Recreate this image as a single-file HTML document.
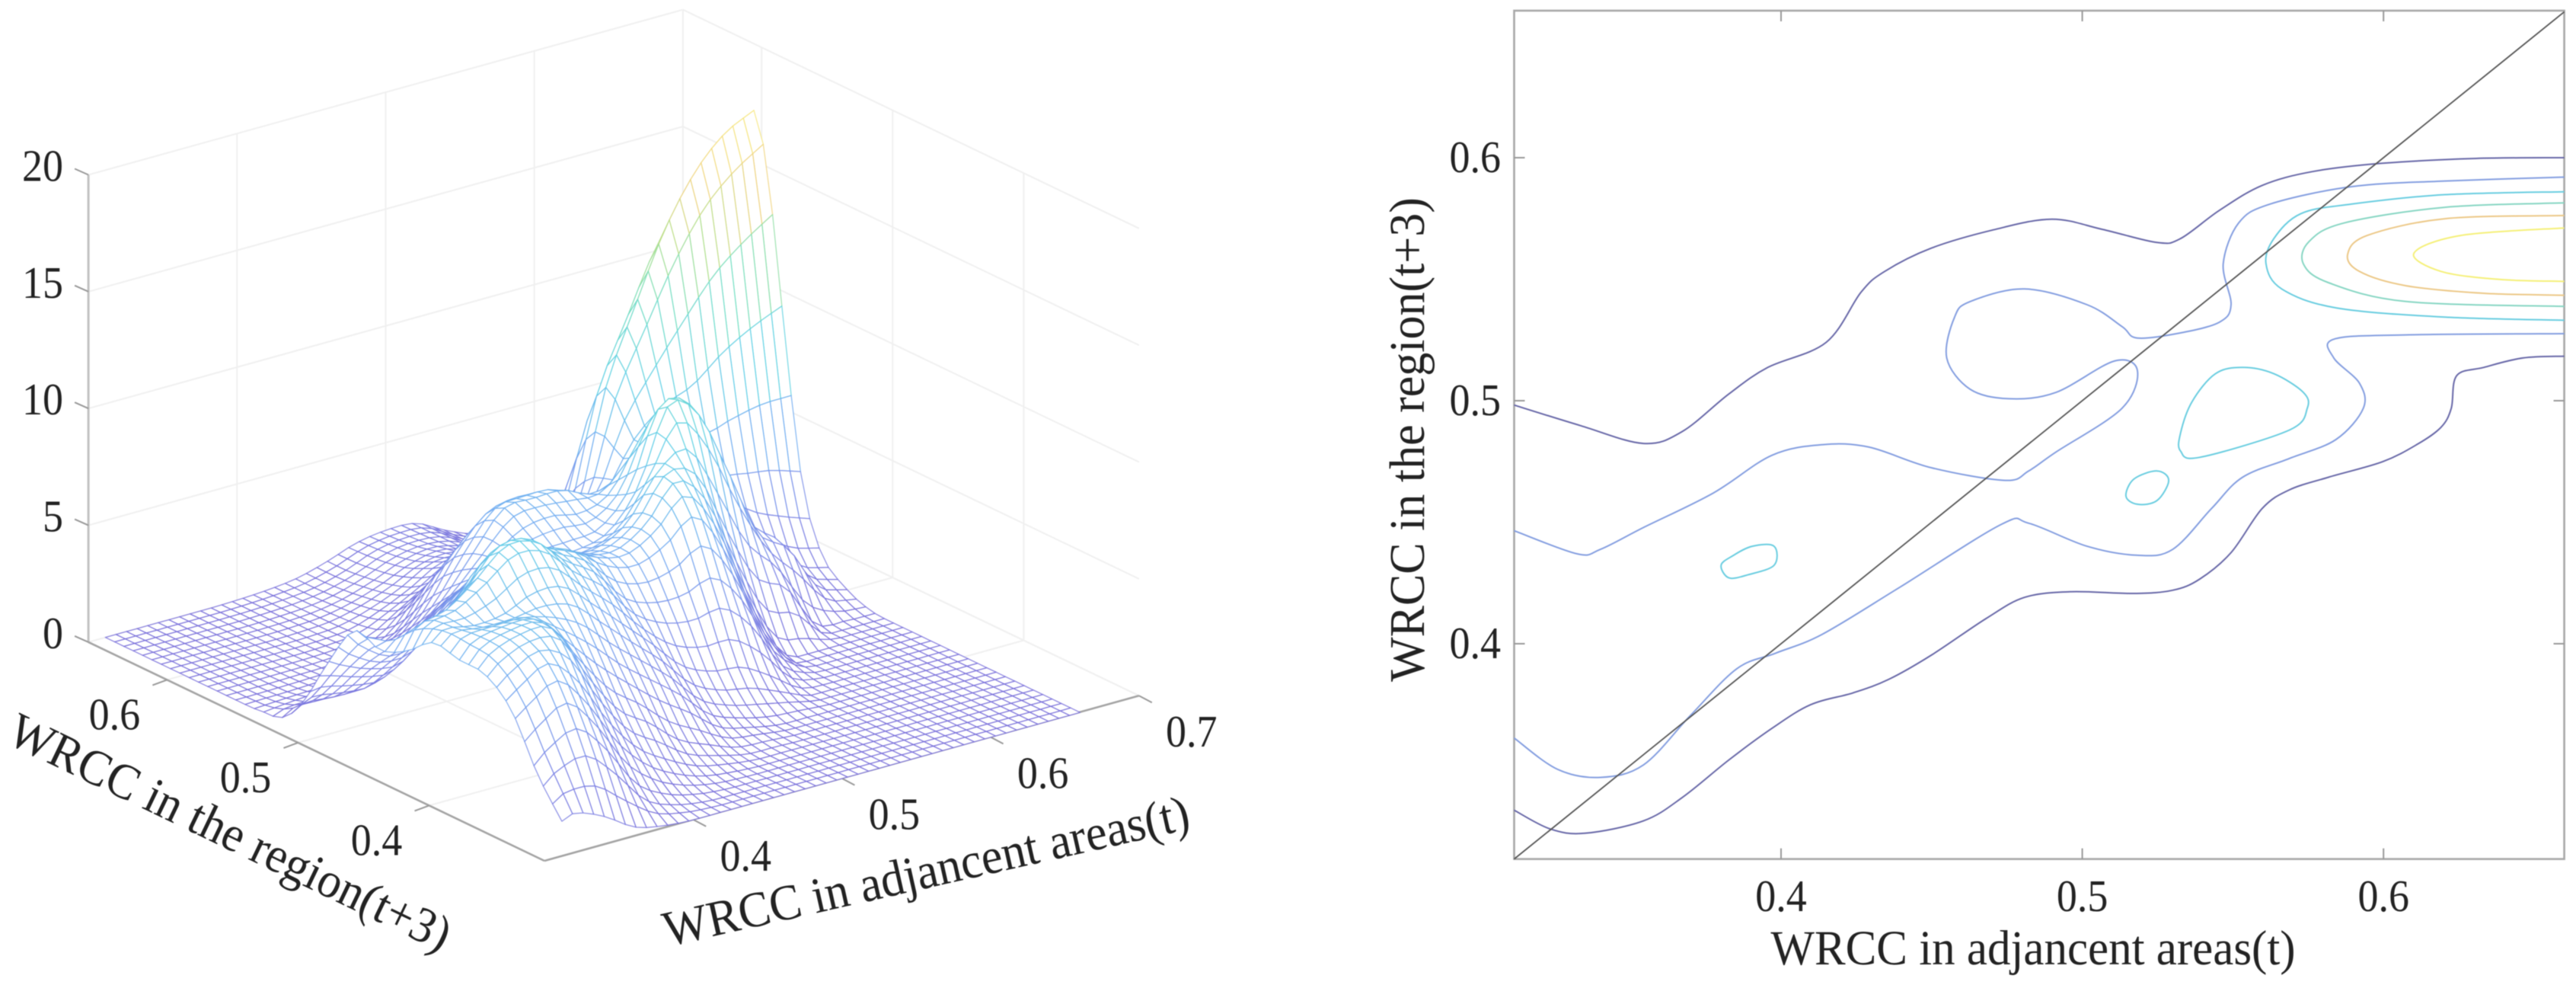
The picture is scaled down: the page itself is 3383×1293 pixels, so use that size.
<!DOCTYPE html>
<html lang="en">
<head>
<meta charset="utf-8">
<title>WRCC surface and contour</title>
<style>
html,body{margin:0;padding:0;background:#fff;}
svg{position:absolute;left:0;top:0;display:block;filter:blur(0.55px);}
text{font-family:"Liberation Serif",serif;fill:#222;}
</style>
</head>
<body>
<svg id="fig" xmlns="http://www.w3.org/2000/svg" width="3383" height="1293" viewBox="0 0 3383 1293">
  <g id="surfaceAxes"></g>
  <g id="surfaceMesh"></g>
  <g id="surfaceLabels"></g>
  <g id="contourChart"></g>
</svg>
<script>
/* ---------- surface readings: z per x knot, each list follows surfaceY ---------- */
const surfaceX = [.3114,.32,.34,.36,.38,.40,.42,.44,.46,.48,.50,.52,.54,.56,.58,.60,.62,.64,.66];
const surfaceY = [.3116,.33,.35,.37,.39,.41,.43,.45,.47,.49,.51,.525,.54,.55,.56,.57,.58,.59,.60,.615,.63,.645,.66];
const surfaceZ = [
[1.5,3.0,5.2,6.2,6.3,6.5,5.6,5.1,5.4,3.5,1.2,.2,.05,0,0,0,0,0,0,0,0,0,0],
[1.7,3.5,5.6,6.7,6.9,6.9,6.5,5.4,4.8,3.2,1.4,.5,.1,.03,0,0,0,0,0,0,0,0,0],
[1.2,4.0,6.3,7.2,7.2,6.7,6.9,5.3,4.0,2.7,1.2,.5,.2,.06,.02,0,0,0,0,0,0,0,0],
[.4,2.8,5.0,7.0,7.2,6.8,7.8,6.1,4.4,2.6,1.2,.6,.25,.12,.05,.02,0,0,0,0,0,0,0],
[.1,1.1,3.0,5.0,6.4,7.3,8.8,7.7,5.4,3.8,2.2,1.1,.5,.25,.12,.05,.02,0,0,0,0,0,0],
[0,.4,1.6,3.3,5.4,7.2,8.6,8.2,6.6,5.0,3.5,2.3,1.3,.8,.45,.2,.1,.05,.03,.03,.03,.03,.03],
[0,.1,.8,2.4,4.2,6.1,7.4,7.6,6.7,5.5,4.3,3.4,2.5,1.8,1.1,.6,.3,.2,.15,.12,.1,.1,.1],
[0,0,.3,1.3,3.2,4.9,6.5,7.1,6.3,5.4,5.2,5.0,4.4,3.6,2.7,1.8,1.1,.75,.55,.4,.3,.25,.25],
[0,0,.1,.7,2.2,3.7,5.0,6.3,6.0,5.4,6.0,6.5,5.8,4.8,3.7,2.6,1.9,1.4,1.1,.85,.7,.6,.6],
[0,0,0,.2,1.0,2.4,4.4,6.0,6.0,5.4,6.2,6.6,6.2,5.5,4.4,3.3,2.6,2.1,1.8,1.4,1.2,1.1,1.05],
[0,0,0,.1,.5,1.8,4.3,6.6,6.8,5.8,6.0,6.6,6.0,5.0,4.2,3.2,2.5,2.1,1.8,1.6,1.4,1.3,1.25],
[0,0,0,0,.2,1.6,4.6,7.6,8.5,7.4,6.6,6.1,5.2,4.5,3.6,2.8,2.2,1.7,1.4,1.2,1.2,1.2,1.2],
[0,0,0,0,.1,.9,3.3,5.8,8.3,10.5,8.6,6.6,5.3,4.8,4.0,3.3,2.5,1.8,1.3,.8,.6,.55,.55],
[0,0,0,0,0,.1,1.0,2.8,5.7,9.8,9.2,7.6,7.3,8.3,8.9,8.0,5.9,3.6,2.2,1.0,.45,.15,.05],
[0,0,0,0,0,0,.1,.5,3.3,7.0,7.6,7.4,8.5,10.6,12.1,10.8,8.2,5.0,2.7,.9,.25,.05,0],
[0,0,0,0,0,0,0,.1,2.4,4.0,4.7,5.6,9.2,12.8,15.0,13.4,9.6,5.5,2.6,.7,.15,.02,0],
[0,0,0,0,0,0,0,0,.4,3.0,3.0,5.2,10.3,14.6,17.1,15.0,11.2,6.3,2.3,.5,.1,0,0],
[0,0,0,0,0,0,0,0,.1,1.0,2.0,5.0,11.1,15.8,18.4,16.8,12.0,6.8,2.5,.4,.05,0,0],
[0,0,0,0,0,0,0,0,.05,.5,1.6,4.6,11.7,16.7,19.05,17.9,12.8,7.2,3.0,.5,.05,0,0]
];
const meshCells = 49;
const surfaceXTicks = [.4,.5,.6,.7];
const surfaceYTicks = [.4,.5,.6];
const surfaceZTicks = [0,5,10,15,20];

/* ---------- contour readings ---------- */
const outerUpperX = [.3114,.3336,.3543,.3672,.3827,.3956,.415,.4266,.4344,.4499,.4705,.4899,.5067,.5248,.5326,.5455,.5597,.5765,.5997,.6307,.66];
const outerUpperY = [.4982,.4897,.4824,.4873,.5028,.5137,.524,.5447,.5532,.5628,.5703,.5747,.5705,.5651,.5667,.5783,.5886,.5943,.5977,.5997,.6];
const outerLowerX = [.3114,.3233,.3349,.3543,.3672,.3827,.3969,.4098,.424,.4357,.4499,.468,.4809,.4964,.5171,.53,.539,.5494,.5597,.5687,.5817,.5997,.6114,.6191,.6225,.6243,.6333,.6463,.66];
const outerLowerY = [.3315,.3238,.322,.3271,.3367,.3522,.3651,.3749,.3798,.3853,.3953,.4103,.4191,.4214,.4207,.422,.4266,.4375,.4556,.4633,.4685,.4749,.4822,.4891,.4969,.5103,.5137,.5176,.5183];
const level6UpperX = [.3114,.3323,.34,.3543,.3775,.3969,.4137,.4292,.4499,.4744,.4822,.4912,.5132,.5183,.5106,.4912,.4757,.4628,.455,.4576,.4628,.4809,.5016,.5132,.5183,.5326,.5455,.5494,.5468,.5519,.5623,.5894,.6204,.66];
const level6UpperY = [.4465,.437,.4388,.4478,.462,.4775,.4819,.4809,.4724,.4672,.4711,.4788,.4969,.5124,.5163,.5034,.5008,.5047,.5176,.5344,.5408,.546,.5395,.5305,.5258,.5279,.5323,.5395,.5563,.5731,.5809,.5881,.5904,.592];
const level6LowerX = [.3114,.3258,.34,.3543,.3698,.3853,.3982,.4137,.4395,.4731,.4822,.5016,.5183,.53,.5429,.5532,.5687,.5842,.5933,.592,.5835,.5835,.6075,.66];
const level6LowerY = [.3612,.3483,.345,.3501,.3703,.3897,.3961,.4039,.4233,.4491,.4496,.4401,.4364,.4388,.4556,.4685,.4762,.484,.4969,.5072,.5176,.5253,.5271,.5276];
const level9RidgeX = [.66,.6204,.5894,.5726,.5636,.561,.5662,.5842,.6204,.66];
const level9RidgeY = [.586,.5848,.5809,.577,.5667,.5563,.546,.5382,.5344,.5331];
const level12RidgeX = [.66,.6204,.5868,.5752,.5734,.5817,.6075,.66];
const level12RidgeY = [.5814,.5796,.5731,.5654,.5563,.5486,.5408,.5388];
const level15RidgeX = [.66,.6204,.5946,.5881,.592,.6075,.6333,.66];
const level15RidgeY = [.5762,.5749,.568,.5602,.5532,.5473,.5442,.5434];
const level18RidgeX = [.66,.6256,.6101,.6191,.6385,.66];
const level18RidgeY = [.5711,.568,.5607,.5532,.5499,.5491];
const islandBigX = [.5326,.539,.5687,.5747,.5734,.5636,.5532,.5442,.5364,.5326];
const islandBigY = [.4793,.4767,.4879,.4969,.5034,.5111,.5137,.5111,.4995,.4866];
const islandSmallX = [.5145,.5183,.5248,.5287,.5248,.5171];
const islandSmallY = [.4607,.4574,.4589,.4672,.4711,.4677];
const islandLeftX = [.3801,.3827,.3891,.3977,.3977,.3904,.384];
const islandLeftY = [.4323,.4271,.4284,.4323,.4401,.4401,.4362];
const diagonalX = [.3114,.66];
const diagonalY = [.3114,.66];
const contourXTicks = [.4,.5,.6];
const contourYTicks = [.4,.5,.6];

const NS = 'http://www.w3.org/2000/svg';
function make(tag, parent, attrs){
  const el = document.createElementNS(NS, tag);
  for (const k in attrs) el.setAttribute(k, attrs[k]);
  parent.appendChild(el);
  return el;
}

/* ---------- 3D axis functions ---------- */
const xLo = .30, xHi = .70, yLo = .312, yHi = .66, zHi = 20;
function projX(x, y){ return 715 + (x - xLo) * 1952 - (y - yLo) * 1721; }
function projY(x, y, z){ return 1130 - (x - xLo) * 542 - (y - yLo) * 825 - z * 30.67; }

function hermite(knots, values, t){
  const n = knots.length;
  let i = 0;
  while (i < n - 2 && t > knots[i + 1]) i++;
  const h = knots[i + 1] - knots[i];
  const slope = function(k){
    if (k <= 0) return (values[1] - values[0]) / (knots[1] - knots[0]);
    if (k >= n - 1) return (values[n - 1] - values[n - 2]) / (knots[n - 1] - knots[n - 2]);
    return (values[k + 1] - values[k - 1]) / (knots[k + 1] - knots[k - 1]);
  };
  const s = (t - knots[i]) / h;
  const s2 = s * s, s3 = s2 * s;
  return (2 * s3 - 3 * s2 + 1) * values[i] + (s3 - 2 * s2 + s) * h * slope(i) +
         (-2 * s3 + 3 * s2) * values[i + 1] + (s3 - s2) * h * slope(i + 1);
}

function meshColor(z){
  const stops = [[0,110,100,215],[3,115,125,228],[6,105,165,240],[9,85,205,228],[12,105,220,190],[14,170,222,130],[16,238,208,120],[19.5,250,240,120]];
  let k = 0;
  while (k < stops.length - 2 && z > stops[k + 1][0]) k++;
  const a = stops[k], b = stops[k + 1];
  const t = Math.max(0, Math.min(1, (z - a[0]) / (b[0] - a[0])));
  const c = [1,2,3].map(function(m){ return Math.round(a[m] + (b[m] - a[m]) * t); });
  return 'rgb(' + c.join(',') + ')';
}

/* ---------- 3D box, grid and ticks ---------- */
const axesGroup = document.getElementById('surfaceAxes');
function boxLine(parent, x1, y1, z1, x2, y2, z2, color, width, name){
  const ln = make('line', parent, {x1: projX(x1, y1), y1: projY(x1, y1, z1), x2: projX(x2, y2), y2: projY(x2, y2, z2), stroke: color, 'stroke-width': width});
  
  
  return ln;
}
const gridColor = '#f0f0f0';
surfaceZTicks.forEach(function(z){
  if (z === 0) return;
  boxLine(axesGroup, xLo, yHi, z, xHi, yHi, z, gridColor, 2, 'back-left-z-gridline');
  boxLine(axesGroup, xHi, yHi, z, xHi, yLo, z, gridColor, 2, 'back-right-z-gridline');
});
surfaceXTicks.forEach(function(x){
  boxLine(axesGroup, x, yLo, 0, x, yHi, 0, gridColor, 2, 'floor-x-gridline');
  if (x < xHi) boxLine(axesGroup, x, yHi, 0, x, yHi, zHi, gridColor, 2, 'wall-x-gridline');
});
surfaceYTicks.forEach(function(y){
  boxLine(axesGroup, xLo, y, 0, xHi, y, 0, gridColor, 2, 'floor-y-gridline');
  boxLine(axesGroup, xHi, y, 0, xHi, y, zHi, gridColor, 2, 'wall-y-gridline');
});
boxLine(axesGroup, xHi, yHi, 0, xHi, yHi, zHi, gridColor, 2, 'back-corner-edge');
boxLine(axesGroup, xLo, yHi, 0, xHi, yHi, 0, gridColor, 2, 'floor-back-left-edge');
boxLine(axesGroup, xHi, yHi, 0, xHi, yLo, 0, gridColor, 2, 'floor-back-right-edge');
const axisColor = '#a4a4a4';
boxLine(axesGroup, xLo, yHi, 0, xLo, yHi, zHi, '#c2c2c2', 3, 'z-axis-line');
boxLine(axesGroup, xLo, yHi, 0, xLo, yLo, 0, axisColor, 2.6, 'y-axis-line');
boxLine(axesGroup, xLo, yLo, 0, xHi, yLo, 0, axisColor, 2.6, 'x-axis-line');
surfaceZTicks.forEach(function(z){
  const px = projX(xLo, yHi), py = projY(xLo, yHi, z);
  const t = make('line', axesGroup, {x1: px, y1: py, x2: px - 18, y2: py - 8, stroke: '#999', 'stroke-width': 2});
  
  
});
surfaceYTicks.forEach(function(y){
  const px = projX(xLo, y), py = projY(xLo, y, 0);
  const t = make('line', axesGroup, {x1: px, y1: py, x2: px - 19, y2: py + 7, stroke: '#999', 'stroke-width': 2});
  
  
});
surfaceXTicks.forEach(function(x){
  const px = projX(x, yLo), py = projY(x, yLo, 0);
  const t = make('line', axesGroup, {x1: px, y1: py, x2: px + 17, y2: py + 9, stroke: '#999', 'stroke-width': 2});
  
  
});

/* ---------- mesh: drawn back to front so white faces hide what is behind ---------- */
const meshGroup = document.getElementById('surfaceMesh');
const xFirst = surfaceX[0], xLast = surfaceX[surfaceX.length - 1];
const yFirst = surfaceY[0], yLast = surfaceY[surfaceY.length - 1];
const xFine = [], yFine = [];
for (let i = 0; i <= meshCells; i++){
  xFine.push(xFirst + (xLast - xFirst) * i / meshCells);
  yFine.push(yFirst + (yLast - yFirst) * i / meshCells);
}
const byColumn = surfaceZ.map(function(col){
  return yFine.map(function(y){ return hermite(surfaceY, col, y); });
});
const zFine = xFine.map(function(x){
  return yFine.map(function(y, j){
    const across = byColumn.map(function(c){ return c[j]; });
    return Math.max(0, hermite(surfaceX, across, x));
  });
});
for (let i = meshCells - 1; i >= 0; i--){
  for (let j = meshCells - 1; j >= 0; j--){
    const corners = [[i, j], [i + 1, j], [i + 1, j + 1], [i, j + 1]];
    const pts = corners.map(function(c){
      const x = xFine[c[0]], y = yFine[c[1]];
      return projX(x, y).toFixed(1) + ',' + projY(x, y, zFine[c[0]][c[1]]).toFixed(1);
    }).join(' ');
    const avg = corners.reduce(function(s, c){ return s + zFine[c[0]][c[1]]; }, 0) / 4;
    const cell = make('polygon', meshGroup, {points: pts, fill: '#fff', stroke: meshColor(avg), 'stroke-width': 1.3, 'stroke-opacity': .78, 'stroke-linejoin': 'round'});
    
    
  }
}

/* ---------- surface labels ---------- */
const labelGroup = document.getElementById('surfaceLabels');
surfaceZTicks.forEach(function(z){
  const t = make('text', labelGroup, {'font-size': 54, 'text-anchor': 'end', transform: 'translate(83 ' + (projY(xLo, yHi, z) + 8) + ') scale(1 1.09)'});
  
  
  t.textContent = String(z);
});
surfaceYTicks.forEach(function(y){
  const t = make('text', labelGroup, {'font-size': 54, 'text-anchor': 'middle', transform: 'translate(' + (projX(xLo, y) - 69) + ' ' + (projY(xLo, y, 0) + 65) + ') scale(1 1.09)'});
  
  
  t.textContent = y.toFixed(1);
});
surfaceXTicks.forEach(function(x){
  const t = make('text', labelGroup, {'font-size': 54, 'text-anchor': 'middle', transform: 'translate(' + (projX(x, yLo) + 69) + ' ' + (projY(x, yLo, 0) + 67) + ') scale(1 1.09)'});
  
  
  t.textContent = x.toFixed(1);
});
const yTitle = make('text', labelGroup, {'font-size': 62, 'text-anchor': 'middle', transform: 'translate(293 1112) rotate(25.7) scale(1 1.06)'});


yTitle.textContent = 'WRCC in the region(t+3)';
const xTitle = make('text', labelGroup, {'font-size': 62.5, 'text-anchor': 'middle', transform: 'translate(1221 1165) rotate(-12.7) scale(1 1.06)'});


xTitle.textContent = 'WRCC in adjancent areas(t)';

/* ---------- contour chart ---------- */
const contourGroup = document.getElementById('contourChart');
function cx(x){ return 2339 + (x - .4) * 3956; }
function cy(y){ return 845 - (y - .4) * 3190; }
const boxL = cx(.3114), boxR = cx(.66), boxT = 14, boxB = cy(.3114);

function smoothPath(xs, ys, closed){
  const p = xs.map(function(x, i){ return [cx(x), cy(ys[i])]; });
  const n = p.length;
  const at = function(i){ return closed ? p[(i + n) % n] : p[Math.max(0, Math.min(n - 1, i))]; };
  let d = 'M' + p[0][0].toFixed(1) + ' ' + p[0][1].toFixed(1);
  const last = closed ? n : n - 1;
  for (let i = 0; i < last; i++){
    const a = at(i - 1), b = at(i), c = at(i + 1), e = at(i + 2);
    d += 'C' + (b[0] + (c[0] - a[0]) / 6).toFixed(1) + ' ' + (b[1] + (c[1] - a[1]) / 6).toFixed(1) + ' ' +
         (c[0] - (e[0] - b[0]) / 6).toFixed(1) + ' ' + (c[1] - (e[1] - b[1]) / 6).toFixed(1) + ' ' +
         c[0].toFixed(1) + ' ' + c[1].toFixed(1);
  }
  return d + (closed ? 'Z' : '');
}

const frame = make('rect', contourGroup, {x: boxL, y: boxT, width: boxR - boxL, height: boxB - boxT, fill: '#fff', stroke: '#a8a8a8', 'stroke-width': 2.6});



contourXTicks.forEach(function(x){
  [[boxB, boxB - 14], [boxT, boxT + 14]].forEach(function(e){
    const t = make('line', contourGroup, {x1: cx(x), x2: cx(x), y1: e[0], y2: e[1], stroke: '#999', 'stroke-width': 2});
    
    
  });
  const l = make('text', contourGroup, {'font-size': 54, 'text-anchor': 'middle', transform: 'translate(' + cx(x) + ' 1196) scale(1 1.09)'});
  
  
  l.textContent = x.toFixed(1);
});
contourYTicks.forEach(function(y){
  [[boxL, boxL + 14], [boxR, boxR - 14]].forEach(function(e){
    const t = make('line', contourGroup, {y1: cy(y), y2: cy(y), x1: e[0], x2: e[1], stroke: '#999', 'stroke-width': 2});
    
    
  });
  const l = make('text', contourGroup, {'font-size': 54, 'text-anchor': 'end', transform: 'translate(1971 ' + (cy(y) + 19) + ') scale(1 1.09)'});
  
  
  l.textContent = y.toFixed(1);
});

const contourLines = [
  {name: 'contour-level-3-upper', xs: outerUpperX, ys: outerUpperY, color: 'rgb(104,104,168)', closed: false},
  {name: 'contour-level-3-lower', xs: outerLowerX, ys: outerLowerY, color: 'rgb(104,104,168)', closed: false},
  {name: 'contour-level-6-upper', xs: level6UpperX, ys: level6UpperY, color: 'rgb(132,158,224)', closed: false},
  {name: 'contour-level-6-lower', xs: level6LowerX, ys: level6LowerY, color: 'rgb(132,158,224)', closed: false},
  {name: 'contour-level-9-ridge', xs: level9RidgeX, ys: level9RidgeY, color: 'rgb(105,205,224)', closed: false},
  {name: 'contour-level-9-island-large', xs: islandBigX, ys: islandBigY, color: 'rgb(105,205,224)', closed: true},
  {name: 'contour-level-9-island-small', xs: islandSmallX, ys: islandSmallY, color: 'rgb(105,205,224)', closed: true},
  {name: 'contour-level-9-island-left', xs: islandLeftX, ys: islandLeftY, color: 'rgb(105,205,224)', closed: true},
  {name: 'contour-level-12-ridge', xs: level12RidgeX, ys: level12RidgeY, color: 'rgb(135,214,195)', closed: false},
  {name: 'contour-level-15-ridge', xs: level15RidgeX, ys: level15RidgeY, color: 'rgb(236,200,135)', closed: false},
  {name: 'contour-level-18-ridge', xs: level18RidgeX, ys: level18RidgeY, color: 'rgb(245,240,120)', closed: false}
];
contourLines.forEach(function(c){
  const path = make('path', contourGroup, {d: smoothPath(c.xs, c.ys, c.closed), fill: 'none', stroke: c.color, 'stroke-width': 2});
  
  
});
const diag = make('line', contourGroup, {x1: cx(diagonalX[0]), y1: cy(diagonalY[0]), x2: cx(diagonalX[1]), y2: cy(diagonalY[1]), stroke: '#555', 'stroke-width': 1.8});



const cXTitle = make('text', contourGroup, {'font-size': 61, 'text-anchor': 'middle', transform: 'translate(2670 1266) scale(1 1.06)'});


cXTitle.textContent = 'WRCC in adjancent areas(t)';
const cYTitle = make('text', contourGroup, {'font-size': 62, 'text-anchor': 'middle', transform: 'translate(1870 577) rotate(-90) scale(1 1.06)'});


cYTitle.textContent = 'WRCC in the region(t+3)';
</script>
</body>
</html>
